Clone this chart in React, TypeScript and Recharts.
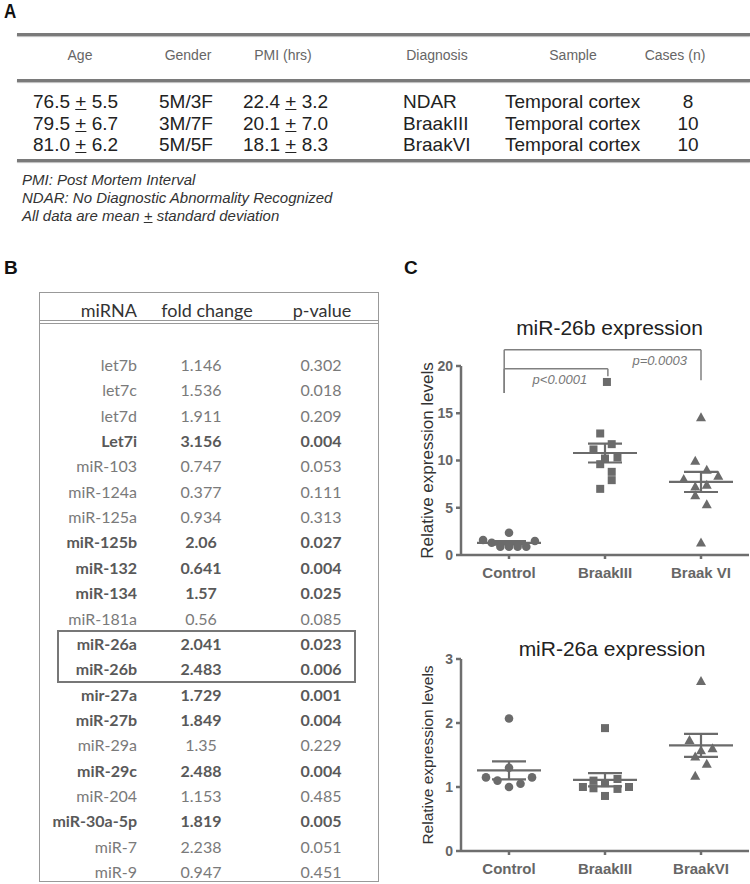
import { ScatterChart, Scatter, XAxis, YAxis, ErrorBar, ReferenceLine, ReferenceDot } from 'recharts'

const DOT = '#6b6b6b'
const AXIS = '#6e6e6e'
const SANS = '"Liberation Sans", Arial, sans-serif'
const CALIBRI = 'Lato, "Open Sans", sans-serif'

// Panel A - cohort table
const headersA = ['Age', 'Gender', 'PMI (hrs)', 'Diagnosis', 'Sample', 'Cases (n)']
const ageMean = ['76.5', '79.5', '81.0']
const ageSd = ['5.5', '6.7', '6.2']
const gender = ['5M/3F', '3M/7F', '5M/5F']
const pmiMean = ['22.4', '20.1', '18.1']
const pmiSd = ['3.2', '7.0', '8.3']
const diagnosis = ['NDAR', 'BraakIII', 'BraakVI']
const sample = ['Temporal cortex', 'Temporal cortex', 'Temporal cortex']
const cases = ['8', '10', '10']

// Panel B - miRNA table
const mirNames = ['let7b', 'let7c', 'let7d', 'Let7i', 'miR-103', 'miR-124a', 'miR-125a', 'miR-125b', 'miR-132', 'miR-134', 'miR-181a', 'miR-26a', 'miR-26b', 'mir-27a', 'miR-27b', 'miR-29a', 'miR-29c', 'miR-204', 'miR-30a-5p', 'miR-7', 'miR-9']
const foldChange = ['1.146', '1.536', '1.911', '3.156', '0.747', '0.377', '0.934', '2.06', '0.641', '1.57', '0.56', '2.041', '2.483', '1.729', '1.849', '1.35', '2.488', '1.153', '1.819', '2.238', '0.947']
const pValues = ['0.302', '0.018', '0.209', '0.004', '0.053', '0.111', '0.313', '0.027', '0.004', '0.025', '0.085', '0.023', '0.006', '0.001', '0.004', '0.229', '0.004', '0.485', '0.005', '0.051', '0.451']
const boldMirs = ['Let7i', 'miR-125b', 'miR-132', 'miR-134', 'miR-26a', 'miR-26b', 'mir-27a', 'miR-27b', 'miR-29c', 'miR-30a-5p']

// Panel C - miR-26b dot plot
const groups26b = ['Control', 'BraakIII', 'Braak VI']
const b26Control = [1.58, 1.3, 0.88, 2.36, 0.88, 0.88, 0.88, 1.48]
const b26ControlJit = [-0.27, -0.18, -0.09, 0, 0, 0.09, 0.18, 0.27]
const b26Braak3 = [18.31, 12.86, 11.73, 11.17, 10.21, 10.32, 9.61, 8.8, 7.92, 7.0]
const b26Braak3Jit = [0.02, -0.05, 0.07, -0.12, 0, 0.13, -0.05, 0.07, 0.07, -0.05]
const b26Braak6 = [14.55, 9.93, 8.98, 8.35, 8.0, 7.22, 7.4, 6.3, 5.35, 1.3]
const b26Braak6Jit = [0, -0.06, 0.06, 0.18, -0.18, -0.06, 0.06, -0.06, 0.06, 0]
const b26Ticks = [0, 5, 10, 15, 20]
// significance brackets: from group x1 to x2 at height h, ends dropping to yl / yr
const b26Brackets = [
  { x1: 0.95, x2: 3.0, h: 21.73, yl: 17.15, yr: 18.49 },
  { x1: 0.95, x2: 2.03, h: 19.72, yl: 17.15, yr: 18.91 },
]
const b26PLabels = [
  { x: 1.53, y: 18.63, text: 'p<0.0001' },
  { x: 2.57, y: 20.56, text: 'p=0.0003' },
]

// Panel C - miR-26a dot plot
const groups26a = ['Control', 'BraakIII', 'BraakVI']
const a26Control = [2.07, 1.3, 1.15, 1.1, 1.0, 1.05, 1.15]
const a26ControlJit = [0, 0, -0.24, -0.12, 0, 0.12, 0.24]
const a26Braak3 = [1.92, 1.0, 1.1, 0.98, 1.06, 1.125, 0.97, 1.0, 0.86]
const a26Braak3Jit = [0, -0.23, -0.12, -0.12, 0, 0.13, 0.13, 0.25, 0]
const a26Braak6 = [2.65, 1.73, 1.6, 1.57, 1.47, 1.36, 1.17]
const a26Braak6Jit = [0, -0.12, 0.12, 0, -0.06, 0.06, -0.06]
const a26Ticks = [0, 1, 2, 3]

const CircleDot = (p: any) => <circle cx={p.cx} cy={p.cy} r={4.3} fill={DOT} />
const SquareDot = (p: any) => <rect x={p.cx - 4} y={p.cy - 4} width={8} height={8} fill={DOT} />
const TriangleDot = (p: any) => (
  <polygon points={`${p.cx},${p.cy - 5.3} ${p.cx + 5},${p.cy + 3.7} ${p.cx - 5},${p.cy + 3.7}`} fill={DOT} />
)
const MeanLine = (p: any) => (
  <line x1={p.cx - 32} x2={p.cx + 32} y1={p.cy} y2={p.cy} stroke={DOT} strokeWidth={2.2} />
)

const shapes = [CircleDot, SquareDot, TriangleDot]

function meanSem(vals: number[]) {
  const n = vals.length
  const mean = vals.reduce((a, b) => a + b, 0) / n
  const sd = Math.sqrt(vals.reduce((a, b) => a + (b - mean) ** 2, 0) / (n - 1))
  return { mean, sem: sd / Math.sqrt(n) }
}

interface DotPlotProps {
  top: number
  height: number
  marginTop: number
  title: string
  titleX: number
  titleTop: number
  labelSize: number
  groups: string[]
  values: number[][]
  jitter: number[][]
  yMax: number
  ticks: number[]
  brackets?: { x1: number; x2: number; h: number; yl: number; yr: number }[]
  pLabels?: { x: number; y: number; text: string }[]
}

function DotPlot(props: DotPlotProps) {
  const { top, height, marginTop, title, titleX, titleTop, labelSize, groups, values, jitter, yMax, ticks } = props
  const summary = values.map((v, i) => {
    const s = meanSem(v)
    return { x: i + 1, y: s.mean, sem: s.sem }
  })
  const lineStyle = { stroke: AXIS, strokeWidth: 2.5 }
  const tickFont = { fill: '#666', fontSize: 14, fontWeight: 'bold', fontFamily: SANS }
  return (
    <>
      <div
        style={{
          position: 'absolute', left: titleX - 150, top: titleTop, width: 300, textAlign: 'center',
          fontSize: 21, lineHeight: '21px', fontFamily: SANS, color: '#222',
        }}
      >
        {title}
      </div>
      <div style={{ position: 'absolute', left: 400, top }}>
        <ScatterChart width={350} height={height} margin={{ top: marginTop, right: 1, bottom: 2, left: 0 }}>
          <XAxis
            dataKey="x"
            type="number"
            domain={[0.5, 3.5]}
            ticks={[1, 2, 3]}
            interval={0}
            allowDataOverflow
            tickFormatter={(v) => groups[v - 1]}
            height={30}
            tickSize={4}
            tickMargin={8}
            axisLine={lineStyle}
            tickLine={lineStyle}
            tick={{ ...tickFont, fontSize: 15 }}
          />
          <YAxis
            dataKey="y"
            type="number"
            domain={[0, yMax]}
            ticks={ticks}
            interval={0}
            allowDataOverflow
            width={61}
            tickSize={5}
            tickMargin={3}
            axisLine={lineStyle}
            tickLine={lineStyle}
            tick={tickFont}
            label={{
              value: 'Relative expression levels', angle: -90, position: 'insideLeft', offset: 27,
              style: { textAnchor: 'middle', fontSize: labelSize, fill: '#333', fontFamily: SANS },
            }}
          />
          {values.map((v, i) => (
            <Scatter
              key={groups[i]}
              data={v.map((y, j) => ({ x: i + 1 + jitter[i][j], y }))}
              shape={shapes[i]}
              isAnimationActive={false}
            />
          ))}
          <Scatter data={summary} shape={MeanLine} isAnimationActive={false}>
            <ErrorBar dataKey="sem" direction="y" width={17} stroke={DOT} strokeWidth={2.2} isAnimationActive={false} />
          </Scatter>
          {(props.brackets || []).flatMap((b, i) => [
            <ReferenceLine key={`l${i}`} segment={[{ x: b.x1, y: b.yl }, { x: b.x1, y: b.h }]} stroke="#808080" strokeWidth={1.5} ifOverflow="visible" />,
            <ReferenceLine key={`h${i}`} segment={[{ x: b.x1, y: b.h }, { x: b.x2, y: b.h }]} stroke="#808080" strokeWidth={1.5} ifOverflow="visible" />,
            <ReferenceLine key={`r${i}`} segment={[{ x: b.x2, y: b.h }, { x: b.x2, y: b.yr }]} stroke="#808080" strokeWidth={1.5} ifOverflow="visible" />,
          ])}
          {(props.pLabels || []).map((p) => (
            <ReferenceDot
              key={p.text}
              x={p.x}
              y={p.y}
              r={0}
              fill="none"
              stroke="none"
              ifOverflow="visible"
              label={{ value: p.text, position: 'center', fill: '#777', fontSize: 13, fontStyle: 'italic', fontFamily: SANS }}
            />
          ))}
        </ScatterChart>
      </div>
    </>
  )
}

const rule = (top: number) => (
  <div style={{ position: 'absolute', left: 17, top, width: 733, height: 3, background: '#7a7a7a', boxShadow: '0 1px 1px #bbb' }} />
)

export default function App() {
  const headerX = [80, 188, 283, 437, 573, 675]
  const rowY = [102, 123.5, 145]
  const pm = (a: string, b: string) => (
    <>
      {a} <u>+</u> {b}
    </>
  )
  return (
    <div style={{ position: 'absolute', left: 0, top: 0, width: 750, height: 884, background: '#fff', fontFamily: SANS, overflow: 'hidden' }}>
      {/* Panel A */}
      <div style={{ position: 'absolute', left: 4, top: 0, fontSize: 20, fontWeight: 'bold', color: '#111', transform: 'scaleX(0.85)', transformOrigin: 'left' }}>A</div>
      {rule(33)}
      {headersA.map((h, i) => (
        <div key={h} style={{ position: 'absolute', left: headerX[i] - 60, width: 120, top: 47, textAlign: 'center', fontSize: 14, color: '#666', lineHeight: '16px' }}>
          {h}
        </div>
      ))}
      {rule(79)}
      {rowY.map((y, i) => (
        <div key={i} style={{ position: 'absolute', left: 0, top: y - 11, width: 750, height: 22, fontSize: 19, lineHeight: '22px', color: '#222' }}>
          <span style={{ position: 'absolute', left: 33 }}>{pm(ageMean[i], ageSd[i])}</span>
          <span style={{ position: 'absolute', left: 159 }}>{gender[i]}</span>
          <span style={{ position: 'absolute', left: 243 }}>{pm(pmiMean[i], pmiSd[i])}</span>
          <span style={{ position: 'absolute', left: 403 }}>{diagnosis[i]}</span>
          <span style={{ position: 'absolute', left: 505 }}>{sample[i]}</span>
          <span style={{ position: 'absolute', left: 658, width: 60, textAlign: 'center' }}>{cases[i]}</span>
        </div>
      ))}
      {rule(159)}
      <div style={{ position: 'absolute', left: 22, top: 171, fontSize: 15, lineHeight: '18px', fontStyle: 'italic', color: '#333' }}>
        <div>PMI: Post Mortem Interval</div>
        <div>NDAR: No Diagnostic Abnormality Recognized</div>
        <div>
          All data are mean <u>+</u> standard deviation
        </div>
      </div>

      {/* Panel B */}
      <div style={{ position: 'absolute', left: 4, top: 257, fontSize: 19, fontWeight: 'bold', color: '#111' }}>B</div>
      <div style={{ position: 'absolute', left: 39, top: 292, width: 338, height: 588, border: '1.5px solid #999' }} />
      <div style={{ position: 'absolute', left: 40, top: 320, width: 338, height: 2, borderTop: '1px solid #999', borderBottom: '1px solid #999' }} />
      <div style={{ position: 'absolute', left: 0, top: 298, width: 400, fontFamily: CALIBRI, fontSize: 18, lineHeight: '24px', color: '#333' }}>
        <span style={{ position: 'absolute', right: 263 }}>miRNA</span>
        <span style={{ position: 'absolute', left: 147, width: 120, textAlign: 'center' }}>fold change</span>
        <span style={{ position: 'absolute', left: 272, width: 100, textAlign: 'center' }}>p-value</span>
      </div>
      {mirNames.map((m, i) => {
        const bold = boldMirs.includes(m)
        return (
          <div
            key={m}
            style={{
              position: 'absolute', left: 0, top: 352 + i * 25.35, width: 400, height: 25, fontFamily: CALIBRI,
              fontSize: 16, lineHeight: '25.35px', color: bold ? '#595959' : '#7a7a7a', fontWeight: bold ? 'bold' : 'normal',
            }}
          >
            <span style={{ position: 'absolute', right: 263 }}>{m}</span>
            <span style={{ position: 'absolute', left: 151, width: 100, textAlign: 'center' }}>{foldChange[i]}</span>
            <span style={{ position: 'absolute', left: 271, width: 100, textAlign: 'center' }}>{pValues[i]}</span>
          </div>
        )
      })}
      <div style={{ position: 'absolute', left: 57, top: 630, width: 295, height: 49, border: '2px solid #777' }} />

      {/* Panel C */}
      <div style={{ position: 'absolute', left: 404, top: 257, fontSize: 19, fontWeight: 'bold', color: '#111' }}>C</div>
      <DotPlot
        top={300}
        height={287}
        marginTop={66}
        title="miR-26b expression"
        titleX={609.5}
        titleTop={317}
        labelSize={17}
        groups={groups26b}
        values={[b26Control, b26Braak3, b26Braak6]}
        jitter={[b26ControlJit, b26Braak3Jit, b26Braak6Jit]}
        yMax={20}
        ticks={b26Ticks}
        brackets={b26Brackets}
        pLabels={b26PLabels}
      />
      <DotPlot
        top={600}
        height={283}
        marginTop={59}
        title="miR-26a expression"
        titleX={612}
        titleTop={638}
        labelSize={15.5}
        groups={groups26a}
        values={[a26Control, a26Braak3, a26Braak6]}
        jitter={[a26ControlJit, a26Braak3Jit, a26Braak6Jit]}
        yMax={3}
        ticks={a26Ticks}
      />
    </div>
  )
}
